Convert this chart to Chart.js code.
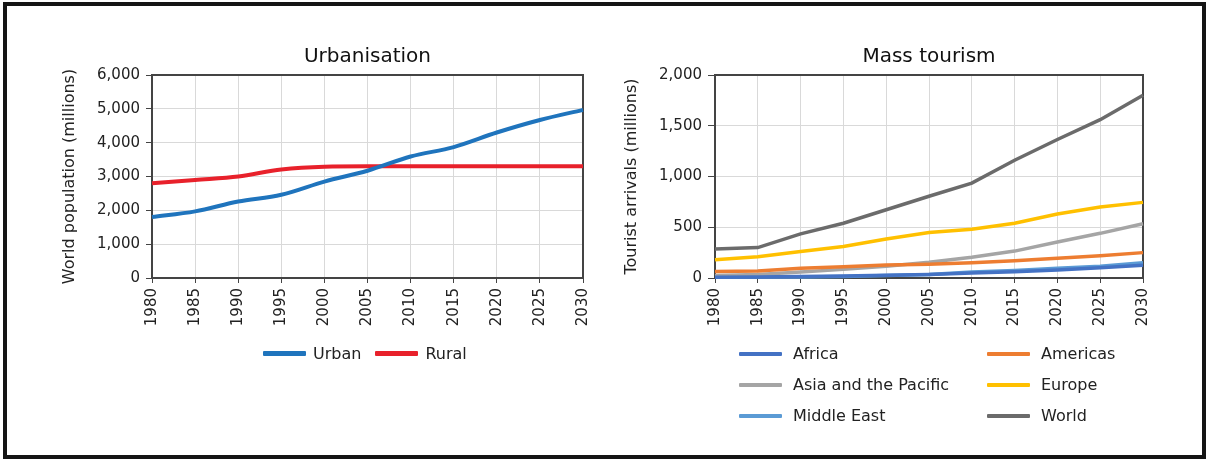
<!DOCTYPE html>
<html>
<head>
<meta charset="utf-8">
<script src="https://cdn.jsdelivr.net/npm/chart.js@4.4.1/dist/chart.umd.min.js"></script>
<style>
  html, body { margin: 0; padding: 0; background: #fff; overflow: hidden; width: 1208px; height: 461px; }
  body { position: relative; font-family: "DejaVu Sans", sans-serif; color: #222; }
  canvas { position: absolute; top: 0; }
  #urban-chart { left: 0; }
  #tourism-chart { left: 600px; }
  .frame { position: absolute; left: 3px; top: 2px; width: 1203px; height: 457px; box-sizing: border-box;
           border: 4px solid #151515; pointer-events: none; z-index: 5; }
  .legend { position: absolute; font-size: 16px; z-index: 4; }
  .legend .item { display: flex; align-items: center; height: 31px; white-space: nowrap; }
  .legend .swatch { display: inline-block; border-radius: 1px; }
  #urban-legend { left: 263px; top: 338px; display: flex; }
  #urban-legend .item { margin-right: 14px; }
  #urban-legend .swatch { width: 43px; height: 5px; margin-right: 7px; }
  #tourism-legend { left: 739px; top: 338px; display: grid; grid-template-columns: 248px auto; }
  #tourism-legend .swatch { width: 43px; height: 4px; margin-right: 11px; }
</style>
</head>
<body>
<canvas id="urban-chart" width="735" height="340"></canvas>
<canvas id="tourism-chart" width="658" height="340"></canvas>
<div id="urban-legend" class="legend"></div>
<div id="tourism-legend" class="legend"></div>
<div class="frame"></div>

<script>
// years shown on both x axes
const years = ["1980", "1985", "1990", "1995", "2000", "2005", "2010", "2015", "2020", "2025", "2030"];

// Urbanisation, world population (millions)
const urban = [1800, 1970, 2260, 2460, 2850, 3170, 3590, 3870, 4300, 4670, 4970];
const rural = [2800, 2900, 3000, 3210, 3290, 3300, 3300, 3300, 3300, 3300, 3300];

// Mass tourism, tourist arrivals (millions)
const africa      = [7, 10, 15, 20, 28, 35, 50, 62, 80, 100, 125];
const americas    = [65, 68, 95, 112, 128, 135, 150, 170, 195, 220, 250];
const asiaPacific = [25, 35, 60, 85, 115, 155, 205, 265, 355, 440, 535];
const europe      = [180, 210, 262, 310, 385, 448, 480, 540, 630, 700, 745];
const middleEast  = [8, 9, 10, 14, 24, 35, 60, 75, 95, 115, 150];
const world       = [285, 300, 435, 540, 672, 805, 935, 1160, 1365, 1560, 1800];

const FONT = "'DejaVu Sans', sans-serif";
const AXIS = "#444";
const GRID = "#d9d9d9";
const TEXT = "#222";

function makeOptions(cfg) {
  return {
    responsive: false,
    animation: false,
    layout: { padding: { left: 0, right: 0, top: 0, bottom: 7 } },
    plugins: {
      legend: { display: false },
      tooltip: { enabled: false },
      title: {
        display: true,
        text: cfg.title,
        color: "#111",
        font: { family: FONT, size: 20, weight: "normal" },
        padding: { top: 45, bottom: 6 },
      },
    },
    elements: { point: { radius: 0 } },
    scales: {
      x: {
        type: "category",
        grid: { color: GRID, lineWidth: 1, tickColor: AXIS, tickLength: 5 },
        border: { color: AXIS, width: 2 },
        ticks: { color: TEXT, font: { family: FONT, size: 15 }, minRotation: 90, maxRotation: 90, autoSkip: false, padding: 5 },
        afterFit: (s) => { s.height = 55; },
      },
      // top and right axes only close the plot frame
      x2: {
        type: "category",
        position: "top",
        labels: years,
        grid: { display: false },
        ticks: { display: false },
        border: { color: AXIS, width: 2 },
        afterFit: (s) => { s.height = 0; },
      },
      y: {
        min: 0,
        max: cfg.max,
        ticks: {
          stepSize: cfg.step,
          color: TEXT,
          font: { family: FONT, size: 15 },
          padding: 6,
          callback: (v) => v.toLocaleString("en-US"),
        },
        grid: { color: GRID, lineWidth: 1, tickColor: AXIS, tickLength: cfg.tickLen },
        border: { color: AXIS, width: 2 },
        title: {
          display: true,
          text: cfg.yTitle,
          color: TEXT,
          font: { family: FONT, size: 16 },
          padding: { top: cfg.titlePad, bottom: 0 },
        },
        afterFit: (s) => { s.width = cfg.yWidth; },
      },
      y2: {
        position: "right",
        grid: { display: false },
        ticks: { display: false },
        border: { color: AXIS, width: 2 },
        afterFit: (s) => { s.width = cfg.yWidth; },
      },
    },
  };
}

function line(label, data, color, width, tension) {
  return {
    label, data,
    borderColor: color,
    backgroundColor: color,
    borderWidth: width,
    tension,
    cubicInterpolationMode: tension ? "monotone" : "default",
    fill: false,
    clip: false,
    xAxisID: "x",
    yAxisID: "y",
  };
}

function buildLegend(id, chart) {
  document.getElementById(id).innerHTML = chart.data.datasets
    .map((ds) => `<div class="item"><span class="swatch" style="background:${ds.borderColor}"></span><span>${ds.label}</span></div>`)
    .join("");
}

const urbanChart = new Chart(document.getElementById("urban-chart"), {
  type: "line",
  data: {
    labels: years,
    datasets: [
      line("Urban", urban, "#1f74bd", 4, 0.4),
      line("Rural", rural, "#e8212b", 4, 0.4),
    ],
  },
  options: makeOptions({
    title: "Urbanisation",
    yTitle: "World population (millions)",
    max: 6000, step: 1000,
    yWidth: 152, titlePad: 60, tickLen: 6,
  }),
});

const tourismChart = new Chart(document.getElementById("tourism-chart"), {
  type: "line",
  data: {
    labels: years,
    datasets: [
      line("Africa", africa, "#4472c4", 3.5, 0),
      line("Americas", americas, "#ed7d31", 3.5, 0),
      line("Asia and the Pacific", asiaPacific, "#a5a5a5", 3.5, 0),
      line("Europe", europe, "#ffc000", 3.5, 0),
      line("Middle East", middleEast, "#5b9bd5", 3.5, 0),
      line("World", world, "#6b6b6b", 3.5, 0),
    ],
  },
  options: makeOptions({
    title: "Mass tourism",
    yTitle: "Tourist arrivals (millions)",
    max: 2000, step: 500,
    yWidth: 115, titlePad: 22, tickLen: 7,
  }),
});

buildLegend("urban-legend", urbanChart);
buildLegend("tourism-legend", tourismChart);
</script>
</body>
</html>
